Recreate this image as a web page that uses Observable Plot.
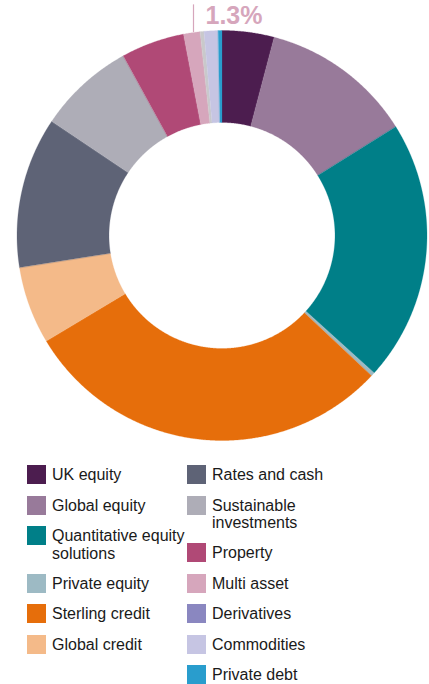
<!DOCTYPE html>
<html>
<head>
<meta charset="utf-8">
<script src="https://cdn.jsdelivr.net/npm/d3@7"></script>
<script src="https://cdn.jsdelivr.net/npm/@observablehq/plot@0.6"></script>
<style>
  html, body { margin: 0; padding: 0; background: #fff; }
  body { width: 429px; height: 684px; position: relative; overflow: hidden; font-family: "Liberation Sans", Arial, sans-serif; }
  #chart { position: absolute; left: 0; top: 0; }
  #legend { position: absolute; top: 465px; left: 27px; display: flex; }
  .col { display: flex; flex-direction: column; }
  .col.left { width: 160px; }
  .item { display: flex; align-items: flex-start; margin-bottom: 11.5px; }
  .sw { width: 19px; height: 19px; flex: none; margin-right: 6px; }
  .lab { font-size: 16px; line-height: 17.5px; padding-top: 1px; color: #1a1a1a; }
</style>
</head>
<body>
<div id="chart"></div>
<div id="legend"></div>
<script>
// ---- data ----
const categories = ["UK equity", "Global equity", "Quantitative equity solutions", "Private equity",
  "Sterling credit", "Global credit", "Rates and cash", "Sustainable investments", "Property",
  "Multi asset", "Derivatives", "Commodities", "Private debt"];
const values = [4.1, 12.0, 20.6, 0.3, 29.4, 6.1, 11.9, 7.6, 5.0, 1.3, 0.3, 1.1, 0.3];
const legendColors = ["#4C1D4F", "#987A9A", "#007F88", "#9DBAC4", "#E66E0B", "#F4BA89", "#5E6376",
  "#AEADB7", "#B04976", "#D6A6BC", "#8A87C0", "#C6C5E3", "#299DCD"];
const ringColors = ["#4C1D4F", "#987A9A", "#007F88", "#9DBAC4", "#E66E0B", "#F4BA89", "#5E6376",
  "#AEADB7", "#B04976", "#D6A6BC", "#C9C9CB", "#C6C5E3", "#299DCD"];
const legendLeft = ["UK equity", "Global equity", "Quantitative equity solutions", "Private equity", "Sterling credit", "Global credit"];
const legendRight = ["Rates and cash", "Sustainable investments", "Property", "Multi asset", "Derivatives", "Commodities", "Private debt"];
const legendLabels = {"Quantitative equity solutions": "Quantitative equity<br>solutions", "Sustainable investments": "Sustainable<br>investments"};
const calloutCategory = "Multi asset";

// ---- geometry from data ----
const innerRatio = 113 / 205;
const pie = d3.pie().sort(null).value(d => d.value)(categories.map((c, i) => ({cat: c, value: values[i]})));
const pts = [];
for (const s of pie) {
  const a0 = s.startAngle, a1 = s.endAngle;
  const n = Math.max(2, Math.ceil((a1 - a0) / 0.005));
  for (let k = 0; k <= n; k++) {
    const a = a0 + (a1 - a0) * k / n;
    pts.push({cat: s.data.cat, x: Math.sin(a), y: Math.cos(a)});
  }
  for (let k = n; k >= 0; k--) {
    const a = a0 + (a1 - a0) * k / n;
    pts.push({cat: s.data.cat, x: innerRatio * Math.sin(a), y: innerRatio * Math.cos(a)});
  }
}
const cs = pie.find(s => s.data.cat === calloutCategory);
const cMid = cs.startAngle + (cs.endAngle - cs.startAngle) * 0.6;
const cx = Math.sin(cMid);
const callout = [{x: cx, y1: Math.sqrt(1 - cx * cx), y2: 1.125, label: `${cs.data.value}%`}];

const chart = Plot.plot({
  width: 429,
  height: 450,
  margin: 0,
  x: {domain: [-1, 1], range: [16.5, 426.5], axis: null},
  y: {domain: [-1, 1], range: [440, 30], axis: null},
  color: {domain: categories, range: ringColors},
  marks: [
    Plot.line(pts, {x: "x", y: "y", z: "cat", fill: "cat", stroke: "cat", strokeWidth: 0.25, curve: "linear-closed"}),
    Plot.ruleX(callout, {x: "x", y1: "y1", y2: "y2", stroke: "#D6A6BC", strokeWidth: 1.2}),
    Plot.text(callout, {x: "x", y: 1.07, text: "label", dx: 12, textAnchor: "start", fill: "#D6A6BC",
      fontSize: 25, fontWeight: 700, fontFamily: "Liberation Sans, Arial, sans-serif", letterSpacing: "-0.5px"})
  ]
});
document.getElementById("chart").appendChild(chart);

// ---- legend ----
const legend = document.getElementById("legend");
for (const [cls, list] of [["left", legendLeft], ["right", legendRight]]) {
  const col = document.createElement("div");
  col.className = "col " + cls;
  for (const c of list) {
    const i = categories.indexOf(c);
    const it = document.createElement("div");
    it.className = "item";
    it.innerHTML = `<div class="sw" style="background:${legendColors[i]}"></div><div class="lab">${legendLabels[c] || c}</div>`;
    col.appendChild(it);
  }
  legend.appendChild(col);
}
</script>
</body>
</html>
